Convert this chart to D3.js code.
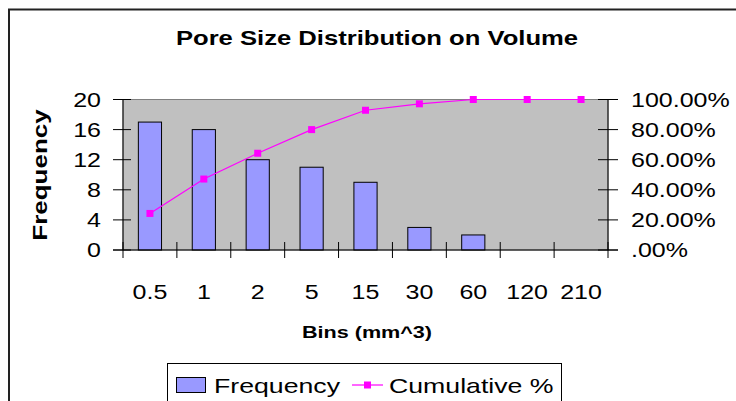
<!DOCTYPE html>
<html>
<head>
<meta charset="utf-8">
<script src="https://cdn.jsdelivr.net/npm/d3@7/dist/d3.min.js"></script>
<style>
  html, body { margin: 0; padding: 0; background: #fff; }
  svg { display: block; font-family: "Liberation Sans", Arial, sans-serif; }
</style>
</head>
<body>
<svg id="chart" width="736" height="401"></svg>
<script>
// Pore size bins (mm^3) and counts per bin
const bins = ["0.5", "1", "2", "5", "15", "30", "60", "120", "210"];
const frequency = [17, 16, 12, 11, 9, 3, 2, 0, 0];
// Cumulative share of the total count, in percent
const cumulativePct = [24.29, 47.14, 64.29, 80.00, 92.86, 97.14, 100, 100, 100];
const freqTicks = [0, 4, 8, 12, 16, 20];
const pctTicks = [0, 20, 40, 60, 80, 100];

const svg = d3.select("#chart");
const plot = { left: 123, right: 608, top: 99.5, bottom: 250 };
const SX = 1.25; // horizontal widening of the chart's lettering

// place a text element at (x, y), widened horizontally
function placeText(sel, x, y, sx = SX, rot = 0) {
  return sel.attr("transform", `translate(${x},${y}) rotate(${rot}) scale(${sx},1)`);
}

// outer chart frame (open at right and bottom)
svg.append("path")
  .attr("d", "M9,401 V9.5 H736")
  .attr("fill", "none").attr("stroke", "#222").attr("stroke-width", 2);

placeText(svg.append("text"), 377, 45)
  .attr("text-anchor", "middle")
  .attr("font-weight", "bold").attr("font-size", 20.5)
  .text("Pore Size Distribution on Volume");

const x = d3.scaleBand().domain(bins).range([plot.left, plot.right]).paddingInner(0).paddingOuter(0);
const y = d3.scaleLinear().domain([0, 20]).range([plot.bottom, plot.top]);
const yPct = d3.scaleLinear().domain([0, 100]).range([plot.bottom, plot.top]);

// plot background
svg.append("rect")
  .attr("x", plot.left).attr("y", plot.top)
  .attr("width", plot.right - plot.left).attr("height", plot.bottom - plot.top)
  .attr("fill", "#C0C0C0").attr("stroke", "#808080").attr("stroke-width", 1);

// frequency bars
const barW = x.bandwidth() * 0.43;
svg.append("g").selectAll("rect")
  .data(frequency.map((v, i) => ({ bin: bins[i], v })).filter(d => d.v > 0))
  .join("rect")
  .attr("x", d => x(d.bin) + x.bandwidth() / 2 - barW / 2)
  .attr("y", d => y(d.v))
  .attr("width", barW)
  .attr("height", d => y(0) - y(d.v))
  .attr("fill", "#9999FF").attr("stroke", "#000").attr("stroke-width", 1);

// left axis
const gl = svg.append("g").attr("stroke", "#000");
gl.append("line").attr("x1", plot.left).attr("x2", plot.left)
  .attr("y1", plot.top).attr("y2", plot.bottom);
gl.selectAll("line.t").data(freqTicks).join("line").attr("class", "t")
  .attr("x1", plot.left - 10).attr("x2", plot.left + 8)
  .attr("y1", d => y(d)).attr("y2", d => y(d));
svg.append("g").selectAll("text").data(freqTicks).join("text")
  .each(function (d) { placeText(d3.select(this), 101, y(d)); })
  .attr("dy", "0.36em")
  .attr("text-anchor", "end").attr("font-size", 20)
  .text(d => d);

// right axis
const gr = svg.append("g").attr("stroke", "#000");
gr.append("line").attr("x1", plot.right).attr("x2", plot.right)
  .attr("y1", plot.top).attr("y2", plot.bottom);
gr.selectAll("line.t").data(pctTicks).join("line").attr("class", "t")
  .attr("x1", plot.right - 10).attr("x2", plot.right + 10)
  .attr("y1", d => yPct(d)).attr("y2", d => yPct(d));
svg.append("g").selectAll("text").data(pctTicks).join("text")
  .each(function (d) { placeText(d3.select(this), 631, yPct(d)); })
  .attr("dy", "0.36em")
  .attr("font-size", 20)
  .text(d => d === 0 ? ".00%" : d.toFixed(2) + "%");

// bottom axis
const gb = svg.append("g").attr("stroke", "#000");
gb.append("line").attr("x1", plot.left - 10).attr("x2", plot.right + 10)
  .attr("y1", plot.bottom).attr("y2", plot.bottom);
const edges = bins.map(b => x(b)).concat([x(bins[bins.length - 1]) + x.bandwidth()]);
gb.selectAll("line.t").data(edges).join("line").attr("class", "t")
  .attr("x1", d => d).attr("x2", d => d)
  .attr("y1", plot.bottom - 8).attr("y2", plot.bottom + 8);
svg.append("g").selectAll("text").data(bins).join("text")
  .each(function (d) { placeText(d3.select(this), x(d) + x.bandwidth() / 2, 299); })
  .attr("text-anchor", "middle").attr("font-size", 20)
  .text(d => d);

// cumulative line with square markers
const cx = i => x(bins[i]) + x.bandwidth() / 2;
svg.append("path")
  .datum(cumulativePct)
  .attr("d", d3.line().x((d, i) => cx(i)).y(d => yPct(d)))
  .attr("fill", "none").attr("stroke", "#FF00FF").attr("stroke-width", 1.2);
svg.append("g").selectAll("rect").data(cumulativePct).join("rect")
  .attr("x", (d, i) => cx(i) - 3.5).attr("y", d => yPct(d) - 3.5)
  .attr("width", 7).attr("height", 7).attr("fill", "#FF00FF");

// axis titles
placeText(svg.append("text"), 47, 175, 1.3, -90)
  .attr("text-anchor", "middle").attr("font-weight", "bold").attr("font-size", 20)
  .text("Frequency");
placeText(svg.append("text"), 367, 338, 1.27)
  .attr("text-anchor", "middle").attr("font-weight", "bold").attr("font-size", 17)
  .text("Bins (mm^3)");

// legend
const lg = svg.append("g");
lg.append("rect").attr("x", 167.5).attr("y", 363.5).attr("width", 394).attr("height", 60)
  .attr("fill", "#fff").attr("stroke", "#000").attr("stroke-width", 1);
lg.append("rect").attr("x", 176.5).attr("y", 377.5).attr("width", 29).attr("height", 15)
  .attr("fill", "#9999FF").attr("stroke", "#000");
placeText(lg.append("text"), 214, 393, 1.27).attr("font-size", 21).text("Frequency");
lg.append("line").attr("x1", 352).attr("x2", 383).attr("y1", 385).attr("y2", 385)
  .attr("stroke", "#FF00FF").attr("stroke-width", 1.2);
lg.append("rect").attr("x", 364).attr("y", 381.5).attr("width", 7).attr("height", 7).attr("fill", "#FF00FF");
placeText(lg.append("text"), 389, 393, 1.27).attr("font-size", 21).text("Cumulative %");
</script>
</body>
</html>
